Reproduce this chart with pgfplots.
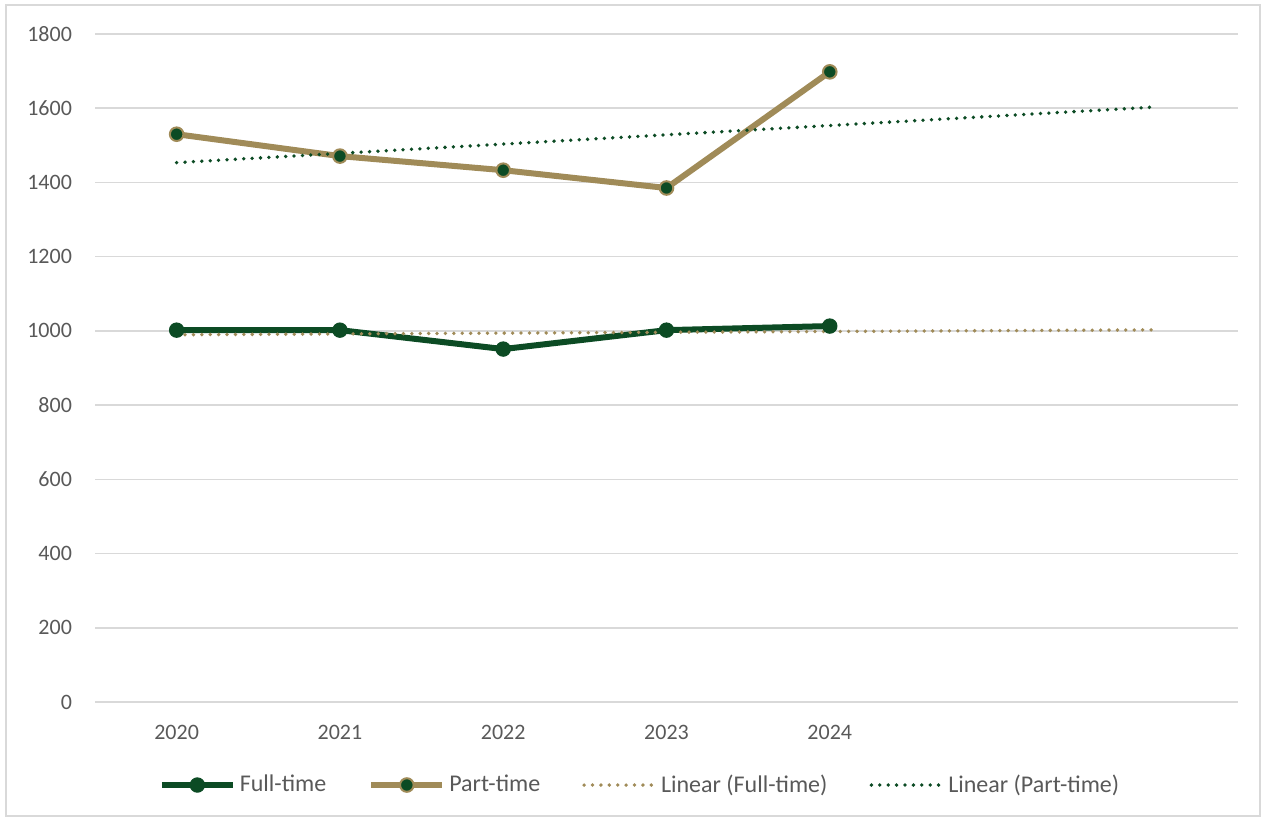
\documentclass[border=0pt]{standalone}
\usepackage{pgfplots}
\pgfplotsset{compat=1.18}
\usepackage{fontspec}
\setmainfont{Carlito}
\definecolor{ftgreen}{HTML}{0C4B24}
\definecolor{ptgold}{HTML}{A08B58}
\definecolor{txtgray}{HTML}{595959}
\definecolor{gridgray}{HTML}{D9D9D9}
\begin{document}
\begin{tikzpicture}[x=1pt,y=1pt]
\useasboundingbox (0,0) rectangle (633,410.5);
\draw[gridgray,line width=0.6pt] (3,2.5) rectangle (630,408);
\begin{axis}[
  at={(47.5pt,59.5pt)}, anchor=south west,
  scale only axis, width=571.5pt, height=334pt,
  xmin=-0.5, xmax=6.5, ymin=0, ymax=1800,
  xtick={0,1,2,3,4}, xticklabels={2020,2021,2022,2023,2024},
  ytick={0,200,...,1800},
  axis line style={draw=none},
  major tick length=0pt,
  ymajorgrids, grid style={gridgray,line width=0.75pt},
  font=\fontsize{11}{13}\selectfont,
  tick label style={text=txtgray, font=\fontsize{11}{13}\selectfont},
  /pgf/number format/assume math mode=true,
  /pgf/number format/1000 sep={},
  xticklabel style={yshift=-8pt},
  yticklabel style={xshift=-8pt},
  legend columns=4,
  legend style={at={(0.4777,-0.1243)}, anchor=center, draw=none, fill=none,
    text=txtgray, font=\fontsize{12}{14}\selectfont,
    /tikz/every even column/.append style={column sep=19pt},
    nodes={inner xsep=2pt},
    inner sep=0pt},
  legend cell align=left,
  legend image code/.code={\draw[mark repeat=2,mark phase=2] plot coordinates {(0pt,0pt)(17.75pt,0pt)(35.5pt,0pt)};},
]
\addplot[ftgreen, line width=3pt, mark=*, mark size=3.6pt, mark options={fill=ftgreen, draw=ftgreen, line width=0.5pt}]
  coordinates {(0,1002) (1,1002) (2,951) (3,1002) (4,1013)};
\addlegendentry{Full-time}
\addplot[ptgold, line width=3pt, mark=*, mark size=3.4pt, mark options={fill=ftgreen, draw=ptgold, line width=1pt}]
  coordinates {(0,1530) (1,1471) (2,1433) (3,1385) (4,1698)};
\addlegendentry{Part-time}
\addplot[ptgold, line width=1.9pt, line cap=round, dash pattern=on 0pt off 4.2pt]
  coordinates {(0,989.6) (6,1002.8)};
\addlegendentry{Linear (Full-time)}
\addplot[ftgreen, line width=1.9pt, line cap=round, dash pattern=on 0pt off 4.2pt]
  coordinates {(0,1453.4) (6,1603.4)};
\addlegendentry{Linear (Part-time)}
\end{axis}
\end{tikzpicture}
\end{document}
